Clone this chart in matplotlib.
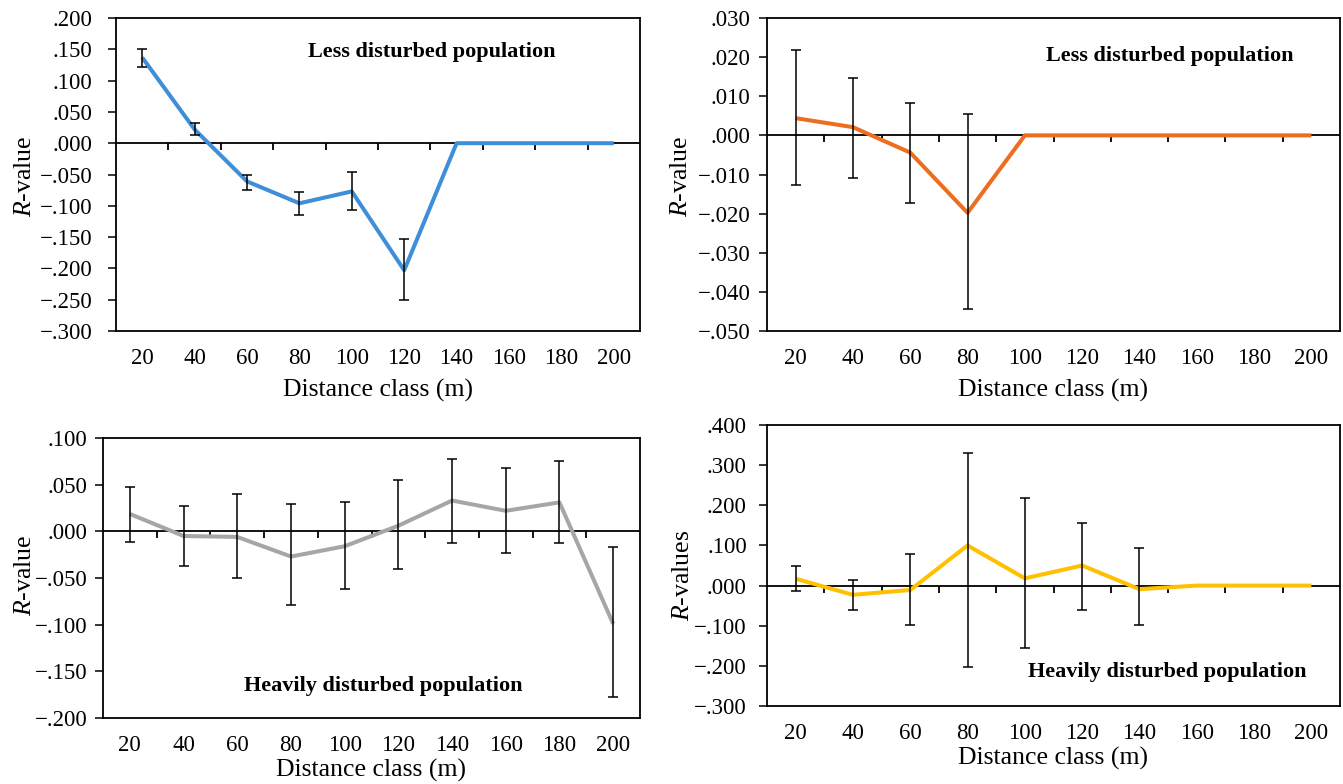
import numpy as np
import matplotlib
matplotlib.use("Agg")
import matplotlib.pyplot as plt
from matplotlib.ticker import FuncFormatter

plt.rcParams['font.family'] = ['Liberation Serif', 'DejaVu Serif']
plt.rcParams['mathtext.fontset'] = 'custom'
plt.rcParams['mathtext.rm'] = 'Liberation Serif'
plt.rcParams['mathtext.it'] = 'Liberation Serif:italic'

categories = ["20", "40", "60", "80", "100", "120", "140", "160", "180", "200"]

# Panel A: less disturbed (blue)
a_vals = [0.137, 0.022, -0.061, -0.096, -0.077, -0.203, 0.0, 0.0, 0.0, 0.0]
a_hi = [0.150, 0.032, -0.050, -0.078, -0.046, -0.153, np.nan, np.nan, np.nan, np.nan]
a_lo = [0.121, 0.013, -0.075, -0.114, -0.107, -0.250, np.nan, np.nan, np.nan, np.nan]

# Panel B: less disturbed (orange)
b_vals = [0.0044, 0.0021, -0.0044, -0.0198, 0.0, 0.0, 0.0, 0.0, 0.0, 0.0]
b_hi = [0.0219, 0.0147, 0.0084, 0.0054, np.nan, np.nan, np.nan, np.nan, np.nan, np.nan]
b_lo = [-0.0127, -0.0110, -0.0174, -0.0444, np.nan, np.nan, np.nan, np.nan, np.nan, np.nan]

# Panel C: heavily disturbed (gray)
c_vals = [0.0186, -0.005, -0.006, -0.027, -0.016, 0.006, 0.033, 0.022, 0.031, -0.099]
c_hi = [0.047, 0.027, 0.040, 0.029, 0.031, 0.055, 0.078, 0.068, 0.075, -0.017]
c_lo = [-0.011, -0.037, -0.050, -0.079, -0.062, -0.040, -0.012, -0.023, -0.013, -0.178]

# Panel D: heavily disturbed (yellow)
d_vals = [0.017, -0.023, -0.011, 0.100, 0.018, 0.050, -0.009, 0.0, 0.0, 0.0]
d_hi = [0.049, 0.014, 0.078, 0.331, 0.219, 0.157, 0.094, np.nan, np.nan, np.nan]
d_lo = [-0.013, -0.061, -0.098, -0.204, -0.155, -0.061, -0.098, np.nan, np.nan, np.nan]

W, H = 1343, 784
fig = plt.figure(figsize=(W / 100, H / 100), dpi=100)


def fmt(v, pos):
    s = f"{abs(v):.3f}"
    if s.startswith("0"):
        s = s[1:]
    if v < -1e-9:
        s = "\u2212" + s
    return s


def px_axes(l, r, t, b):
    return fig.add_axes([l / W, (H - b) / H, (r - l) / W, (b - t) / H])


def panel(box, vals, hi, lo, color, ylim, step, title, tpos, xlab_pos, ylab_pos, ylab, ypad):
    ax = px_axes(*box)
    x = np.arange(len(categories))
    vals = np.array(vals)
    hi = np.array(hi)
    lo = np.array(lo)
    ax.plot(x, vals, color=color, lw=2.9, solid_capstyle='butt', zorder=3)
    ax.errorbar(x, vals, yerr=[vals - lo, hi - vals], fmt='none', ecolor='black',
                elinewidth=1.1, capsize=3.3, capthick=1.1, zorder=4)
    ax.set_xlim(-0.5, len(categories) - 0.5)
    ax.set_ylim(*ylim)
    ax.set_yticks(np.arange(ylim[0], ylim[1] + step / 2, step))
    ax.yaxis.set_major_formatter(FuncFormatter(fmt))
    ax.set_xticks(x)
    ax.set_xticklabels(categories)
    ax.tick_params(axis='x', length=0, pad=12.5, labelsize=16.5)
    ax.tick_params(axis='y', direction='out', length=6, width=1.1, pad=ypad, labelsize=16.5)
    for s in ax.spines.values():
        s.set_linewidth(1.3)
    # horizontal category axis crossing at zero
    ax.axhline(0, color='black', lw=1.3, zorder=2)
    frac = (0 - ylim[0]) / (ylim[1] - ylim[0])
    sec = ax.secondary_xaxis(frac)
    sec.set_xticks(x[:-1] + 0.5)
    sec.tick_params(axis='x', direction='out', length=5, width=1.3, labelbottom=False,
                    labeltop=False)
    sec.spines['bottom'].set_visible(False)
    sec.spines['top'].set_visible(False)
    sec.xaxis.set_ticks_position('bottom')
    sec.tick_params(axis='x', labelbottom=False)
    ax.text(tpos[0], tpos[1], title, transform=ax.transAxes, ha='center', va='center',
            fontsize=16, fontweight='bold')
    fig.text(xlab_pos[0] / W, 1 - xlab_pos[1] / H, "Distance class (m)", ha='center',
             va='center', fontsize=18.5)
    fig.text(ylab_pos[0] / W, 1 - ylab_pos[1] / H, ylab, ha='center', va='center',
             rotation=90, fontsize=18.5)
    return ax


panel((116, 640, 18, 331), a_vals, a_hi, a_lo, '#3F8FD8', (-0.3, 0.2), 0.05,
      "Less disturbed population", (0.602, 0.891), (378, 390), (25, 176), "$R$-value", 11)
panel((767, 1340, 18, 331), b_vals, b_hi, b_lo, '#EC6E1E', (-0.05, 0.03), 0.01,
      "Less disturbed population", (0.703, 0.879), (1053, 390), (681, 176), "$R$-value", 6)
panel((103, 640, 438, 718), c_vals, c_hi, c_lo, '#A6A6A6', (-0.2, 0.1), 0.05,
      "Heavily disturbed population", (0.521, 0.114), (371, 770), (25, 575), "$R$-value", 5)
panel((767, 1340, 425, 706), d_vals, d_hi, d_lo, '#FFC000', (-0.3, 0.4), 0.1,
      "Heavily disturbed population", (0.698, 0.121), (1053, 758), (683, 575), "$R$-values", 8.5)

fig.savefig("out.png", dpi=100)
